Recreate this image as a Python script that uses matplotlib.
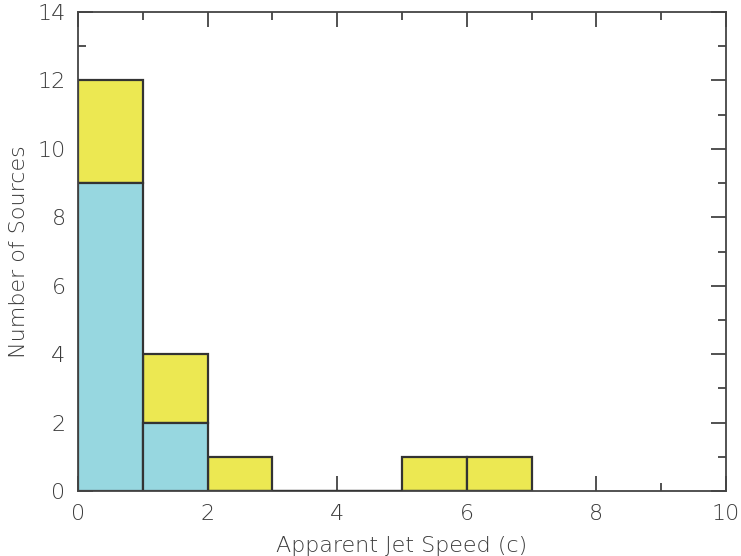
import matplotlib
matplotlib.use("Agg")
import matplotlib.pyplot as plt
import numpy as np
from matplotlib.ticker import MultipleLocator

bin_left = [0, 1, 2, 3, 4, 5, 6]
cyan_counts = [9, 2, 0, 0, 0, 0, 0]
yellow_counts = [3, 2, 1, 0, 0, 1, 1]
x_label = "Apparent Jet Speed (c)"
y_label = "Number of Sources"

plt.rcParams['font.family'] = ['DejaVu Sans']
fig = plt.figure(figsize=(7.41, 5.56), dpi=100)
ax = fig.add_axes([78/741, 1-491/556, (726-78)/741, (491-12)/556])

edge = '#333333'
txt = '#3a3a3a'
totals = np.array(cyan_counts) + np.array(yellow_counts)
ax.bar(bin_left, yellow_counts, width=1, bottom=cyan_counts, align='edge',
       color='#ece852', edgecolor=edge, linewidth=1.6, zorder=2)
ax.bar(bin_left, cyan_counts, width=1, align='edge',
       color='#97d7e0', edgecolor=edge, linewidth=1.6, zorder=2)
for xl, t in zip(bin_left, totals):
    if t == 0:
        ax.plot([xl, xl+1], [0, 0], color=edge, lw=2, zorder=3, solid_capstyle='butt')

ax.set_xlim(0, 10)
ax.set_ylim(0, 14)
ax.xaxis.set_major_locator(MultipleLocator(2))
ax.xaxis.set_minor_locator(MultipleLocator(1))
ax.yaxis.set_major_locator(MultipleLocator(2))
ax.yaxis.set_minor_locator(MultipleLocator(1))
ax.tick_params(which='both', direction='in', top=True, right=True, color='#333333',
               labelcolor=txt, labelsize=16, width=1.2)
ax.tick_params(which='major', length=11, pad=9)
ax.tick_params(which='minor', length=6)
for lab in ax.get_xticklabels() + ax.get_yticklabels():
    lab.set_fontweight('light')
for s in ax.spines.values():
    s.set_color('#444444')
    s.set_linewidth(1.3)
ax.set_xlabel(x_label, fontsize=16, color=txt, fontweight='light', labelpad=9)
ax.set_ylabel(y_label, fontsize=16, color=txt, fontweight='light', labelpad=6)

fig.savefig("out.png", dpi=100)
